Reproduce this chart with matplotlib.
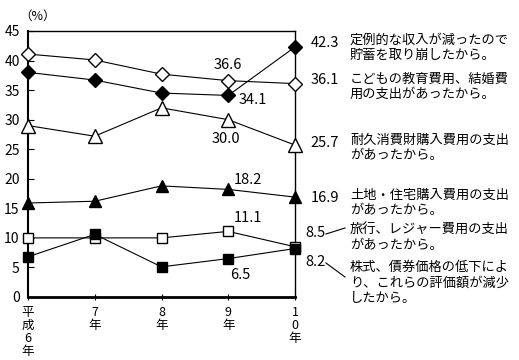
import matplotlib.pyplot as plt
import numpy as np

plt.rcParams['font.family'] = ['Noto Sans CJK JP', 'DejaVu Sans']

years = ['平成6年', '7年', '8年', '9年', '10年']
income_drop = [38.0, 36.7, 34.5, 34.1, 42.3]      # filled diamond
education = [41.1, 40.1, 37.7, 36.6, 36.1]        # open diamond
durables = [29.0, 27.2, 32.0, 30.0, 25.7]         # open triangle
housing = [15.9, 16.2, 18.8, 18.2, 16.9]          # filled triangle
leisure = [10.0, 10.0, 10.0, 11.1, 8.5]           # open square
stocks = [6.8, 10.6, 5.1, 6.5, 8.2]               # filled square

notes = ['定例的な収入が減ったので\n貯蓄を取り崩したから。',
         'こどもの教育費用、結婚費\n用の支出があったから。',
         '耐久消費財購入費用の支出\nがあったから。',
         '土地・住宅購入費用の支出\nがあったから。',
         '旅行、レジャー費用の支出\nがあったから。',
         '株式、債券価格の低下によ\nり、これらの評価額が減少\nしたから。']

fig = plt.figure(figsize=(5.19, 3.6), dpi=100)
ax = fig.add_axes([28/519, 63/360, 267/519, 266/360])
x = np.arange(len(years))

series = [
    (income_drop, 'D', 'black', 7),
    (education, 'D', 'white', 7),
    (durables, '^', 'white', 9.5),
    (housing, '^', 'black', 9),
    (leisure, 's', 'white', 7.5),
    (stocks, 's', 'black', 7.5),
]
for vals, m, fc, ms in series:
    ax.plot(x, vals, color='black', lw=0.8, marker=m, markerfacecolor=fc,
            markeredgecolor='black', markersize=ms, clip_on=False, zorder=3)

ax.set_xlim(0, 4)
ax.set_ylim(0, 45)
ax.set_yticks(range(0, 50, 5))
ax.set_xticks(x)
ax.set_xticklabels(['\n'.join(y) for y in years], fontsize=9, linespacing=1.0, va='top')
ax.tick_params(axis='y', direction='in', length=4, labelsize=10, pad=6)
ax.tick_params(axis='x', direction='inout', length=5, pad=4)
for s in ax.spines.values():
    s.set_linewidth(1.0)
ax.spines['bottom'].set_linewidth(2.0)
ax.spines['left'].set_linewidth(1.5)

fig.text(19/519, 1 - 16/360, '（%）', fontsize=9, va='center', ha='left')

# labels at 9年
lab_off = [(18, -3), (0, 11), (-1.5, -14), (14, 6.5), (14.5, 9.5), (8.5, -12)]
vals9 = [s[0][3] for s in series]
for v, (dx, dy) in zip(vals9, lab_off):
    ax.annotate(f'{v:.1f}', (3, v), xytext=(dx, dy), textcoords='offset points',
                ha='center', va='center', fontsize=10.5)

# labels at 10年 and notes
end_x = [325, 325, 325, 325, 315, 315]
end_y = [43, 80, 143, 198, 233, 262]
note_y = [48, 87, 148, 203, 238, 283]
for (vals, *_), ex, yy, ny, note in zip(series, end_x, end_y, note_y, notes):
    fig.text(ex/519, 1 - yy/360, f'{vals[4]:.1f}', fontsize=10.5,
             ha='center', va='center')
    fig.text(350/519, 1 - ny/360, note, fontsize=9.5, ha='left', va='center',
             linespacing=1.25)

# leader lines
fig.add_artist(plt.Line2D([326/519, 345/519], [1 - 234/360, 1 - 228/360],
                          color='black', lw=0.8))
fig.add_artist(plt.Line2D([326/519, 345/519], [1 - 263/360, 1 - 277/360],
                          color='black', lw=0.8))

fig.savefig('out.png', dpi=100)
